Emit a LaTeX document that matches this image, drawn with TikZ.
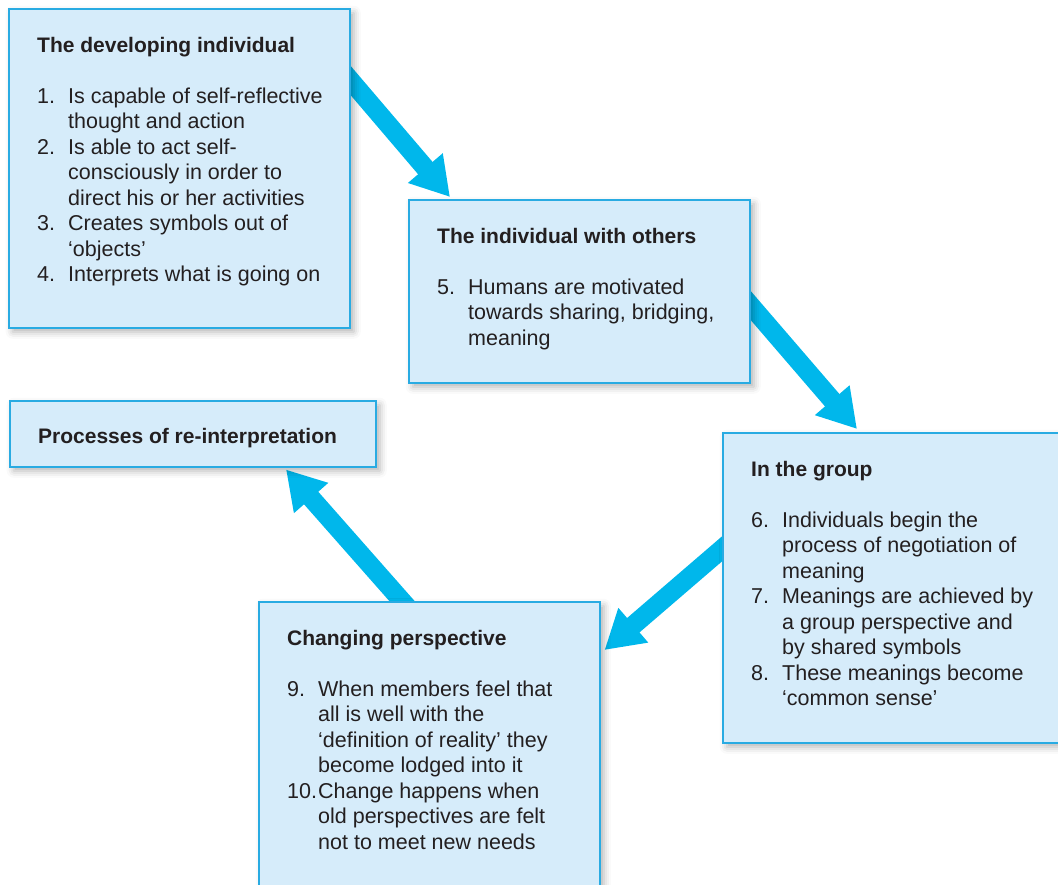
\documentclass[tikz,border=0pt]{standalone}
\usepackage{fontspec}
\setmainfont{Liberation Sans}
\usepackage{array}
\usetikzlibrary{arrows.meta,calc,backgrounds,shadows.blur}

\definecolor{boxfill}{RGB}{214,236,250}
\definecolor{boxline}{RGB}{41,171,226}
\definecolor{arrowblue}{RGB}{0,183,235}
\definecolor{inktext}{RGB}{35,31,32}

% heading row spanning both columns of a list
\newcommand{\stagetitle}[1]{\multicolumn{2}{@{}l@{}}{\fontsize{21}{25.5}\selectfont\bfseries #1}}

\begin{document}
\begin{tikzpicture}[x=1pt,y=-1pt]
	\tikzstyle{box}=[draw=boxline, fill=boxfill, line width=1.5pt, anchor=north west, inner sep=0pt,
		blur shadow={shadow xshift=4pt, shadow yshift=-4pt, shadow blur radius=7pt, shadow opacity=30}]
	\tikzstyle{boxtext}=[anchor=base west, inner sep=0pt, text=inktext, font=\fontsize{21.5}{25.5}\selectfont]
	\tikzstyle{flow}=[draw=arrowblue, line width=19pt, -{Triangle[length=38pt,width=43pt]}]

	\useasboundingbox (0,0) rectangle (1058,884);
	\clip (0,0) rectangle (1058,884);

	% Draw the stage boxes
	\node[box, minimum width=341pt, minimum height=319pt] (dev) at (8,8) {};
	\node[box, minimum width=341pt, minimum height=183pt] (others) at (408,199) {};
	\node[box, minimum width=366pt, minimum height=66pt] (reinterp) at (9,400) {};
	\node[box, minimum width=360pt, minimum height=310pt] (group) at (722,432) {};
	\node[box, minimum width=341pt, minimum height=310pt] (persp) at (258,601) {};

	% Lists inside the boxes
	\node[boxtext] (devT) at ($(dev.north west)+(29,44)$) {%
		\begin{tabular}[t]{@{}p{31pt}@{}l@{}}
			\stagetitle{The developing individual}\\[25.5pt]
			1. & Is capable of self-reflective\\
			   & thought and action\\
			2. & Is able to act self-\\
			   & consciously in order to\\
			   & direct his or her activities\\
			3. & Creates symbols out of\\
			   & ‘objects’\\
			4. & Interprets what is going on
		\end{tabular}};
	\node[boxtext] (othersT) at ($(others.north west)+(29,44)$) {%
		\begin{tabular}[t]{@{}p{31pt}@{}l@{}}
			\stagetitle{The individual with others}\\[25.5pt]
			5. & Humans are motivated\\
			   & towards sharing, bridging,\\
			   & meaning
		\end{tabular}};
	\node[boxtext] (reinterpT) at ($(reinterp.north west)+(29,43)$) {%
		\begin{tabular}[t]{@{}p{31pt}@{}l@{}}
			\stagetitle{Processes of re-interpretation}
		\end{tabular}};
	\node[boxtext] (groupT) at ($(group.north west)+(29,44)$) {%
		\begin{tabular}[t]{@{}p{31pt}@{}l@{}}
			\stagetitle{In the group}\\[25.5pt]
			6. & Individuals begin the\\
			   & process of negotiation of\\
			   & meaning\\
			7. & Meanings are achieved by\\
			   & a group perspective and\\
			   & by shared symbols\\
			8. & These meanings become\\
			   & ‘common sense’
		\end{tabular}};
	\node[boxtext] (perspT) at ($(persp.north west)+(29,44)$) {%
		\begin{tabular}[t]{@{}p{31pt}@{}l@{}}
			\stagetitle{Changing perspective}\\[25.5pt]
			9. & When members feel that\\
			   & all is well with the\\
			   & ‘definition of reality’ they\\
			   & become lodged into it\\
			10. & Change happens when\\
			    & old perspectives are felt\\
			    & not to meet new needs
		\end{tabular}};

	% Arrows run behind the boxes
	\begin{scope}[on background layer]
		\draw[flow] ($(dev.north east)+(-8,63)$) -- ($(others.north west)+(42,-2)$);
		\draw[flow] ($(others.north east)+(-8,97)$) -- ($(group.north west)+(135,-3)$);
		\draw[flow] ($(group.north west)+(8,110)$) -- ($(persp.north east)+(4,49)$);
		\draw[flow] ($(persp.north west)+(151,8)$) -- ($(reinterp.south west)+(277,2)$);
	\end{scope}
\end{tikzpicture}
\end{document}
